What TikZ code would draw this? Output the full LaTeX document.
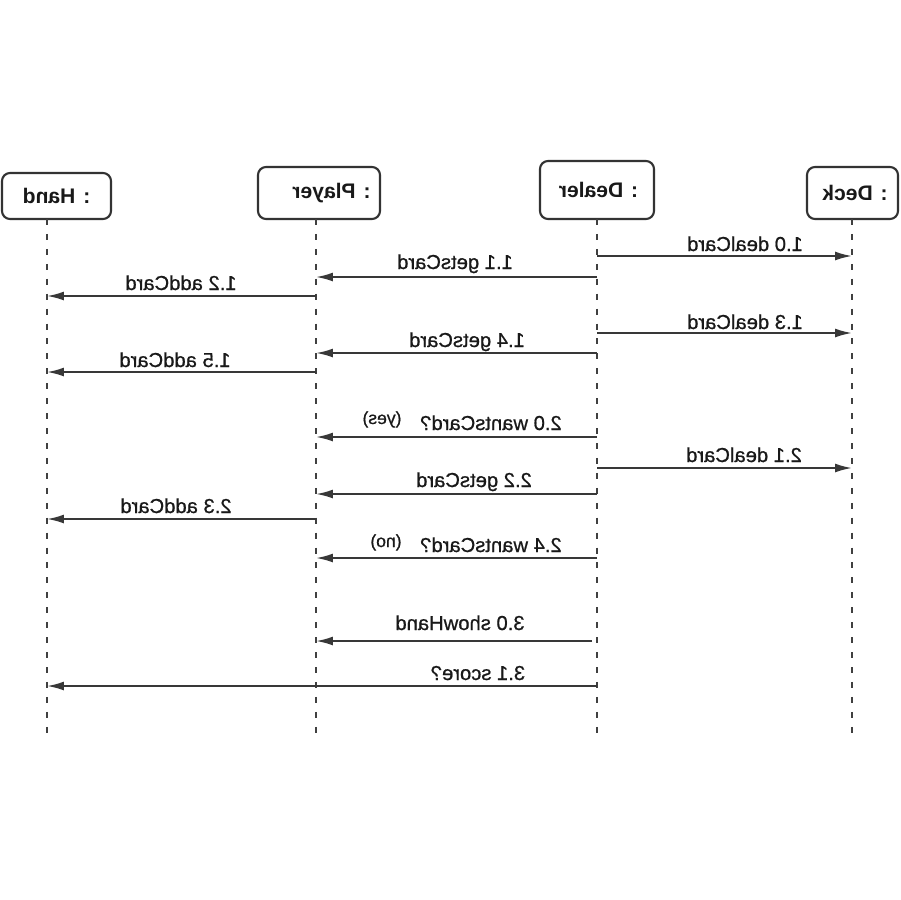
\documentclass[tikz,border=0pt]{standalone}
\usepackage{fontspec}
\setmainfont{Liberation Sans}
\newfontfamily\lblfont{Liberation Sans}[FakeBold=0.8]
\usepackage{graphicx}
\usetikzlibrary{arrows.meta}

\newcommand{\mir}[1]{\reflectbox{#1}}

\tikzset{
  actor/.style={draw=black!80, line width=1.2pt, rounded corners=0.16cm, fill=white,
    inner sep=0pt, font=\fontsize{12}{14}\selectfont\bfseries, text=black!90},
  lifeline/.style={draw=black!75, line width=1.3pt, dash pattern=on 3.4pt off 5.1pt},
  msg/.style={draw=black!78, line width=1.1pt, -{Latex[length=3.4mm,width=1.8mm]}},
  lbl/.style={anchor=base, inner sep=0pt, font=\lblfont\fontsize{11.5}{13}\selectfont, text=black!90},
  note/.style={lbl, font=\lblfont\fontsize{10}{12}\selectfont}
}

\begin{document}
\begin{tikzpicture}[x=0.02cm, y=-0.02cm]
			\useasboundingbox (0,0) rectangle (900,900);
			
			% objects
			\node[actor, minimum width=2.18cm, minimum height=0.92cm] (hand) at (56.5,196) {\mir{: Hand}\hspace{0.08cm}};
			\node[actor, minimum width=2.44cm, minimum height=1.04cm] (player) at (319,193) {\hspace{0.5cm}\mir{: Player}};
			\node[actor, minimum width=2.28cm, minimum height=1.16cm] (dealer) at (597,190) {\hspace{0.06cm}\mir{: Dealer}};
			\node[actor, minimum width=1.82cm, minimum height=1.04cm] (deck) at (852.5,193) {\hspace{0.1cm}\mir{: Deck}};
			
			% lifelines
			\coordinate (handL) at (47,219);
			\coordinate (playerL) at (316,219);
			\coordinate (dealerL) at (597,219);
			\coordinate (deckL) at (852,219);
			\draw[lifeline] (handL) -- (handL |- 0,733);
			\draw[lifeline] (playerL) -- (playerL |- 0,733);
			\draw[lifeline] (dealerL) -- (dealerL |- 0,733);
			\draw[lifeline] (deckL) -- (deckL |- 0,733);
			
			% first two cards
			\draw[msg] (dealerL |- 0,256) -- (deckL |- 0,256);
			\node[lbl] (m10) at (745,251) {\mir{1.0 dealCard}};
			\draw[msg] (dealerL |- 0,277) -- (playerL |- 0,277);
			\node[lbl] (m11) at (455,269) {\mir{1.1 getsCard}};
			\draw[msg] (playerL |- 0,296) -- (handL |- 0,296);
			\node[lbl] (m12) at (181,290) {\mir{1.2 addCard}};
			\draw[msg] (dealerL |- 0,333) -- (deckL |- 0,333);
			\node[lbl] (m13) at (745,329) {\mir{1.3 dealCard}};
			\draw[msg] (dealerL |- 0,353) -- (playerL |- 0,353);
			\node[lbl] (m14) at (467,347) {\mir{1.4 getsCard}};
			\draw[msg] (playerL |- 0,372) -- (handL |- 0,372);
			\node[lbl] (m15) at (175,367) {\mir{1.5 addCard}};
			
			% more cards
			\draw[msg] (dealerL |- 0,437) -- (playerL |- 0,437);
			\node[lbl] (m20) at (491,430) {\mir{2.0 wantsCard?}};
			\node[note] (yes) at (382,424) {\mir{(yes)}};
			\draw[msg] (dealerL |- 0,468) -- (deckL |- 0,468);
			\node[lbl] (m21) at (744,462) {\mir{2.1 dealCard}};
			\draw[msg] (dealerL |- 0,494) -- (playerL |- 0,494);
			\node[lbl] (m22) at (474,487) {\mir{2.2 getsCard}};
			\draw[msg] (playerL |- 0,519) -- (handL |- 0,519);
			\node[lbl] (m23) at (176,513) {\mir{2.3 addCard}};
			\draw[msg] (dealerL |- 0,558) -- (playerL |- 0,558);
			\node[lbl] (m24) at (491,552) {\mir{2.4 wantsCard?}};
			\node[note] (no) at (386,547) {\mir{(no)}};
			
			% scoring
			\draw[msg] ([xshift=-0.1cm]dealerL |- 0,641) -- (playerL |- 0,641);
			\node[lbl] (m30) at (460,630) {\mir{3.0 showHand}};
			\draw[msg] (dealerL |- 0,686) -- (handL |- 0,686);
			\node[lbl] (m31) at (478,680) {\mir{3.1 score?}};
		
		\end{tikzpicture}
\end{document}
